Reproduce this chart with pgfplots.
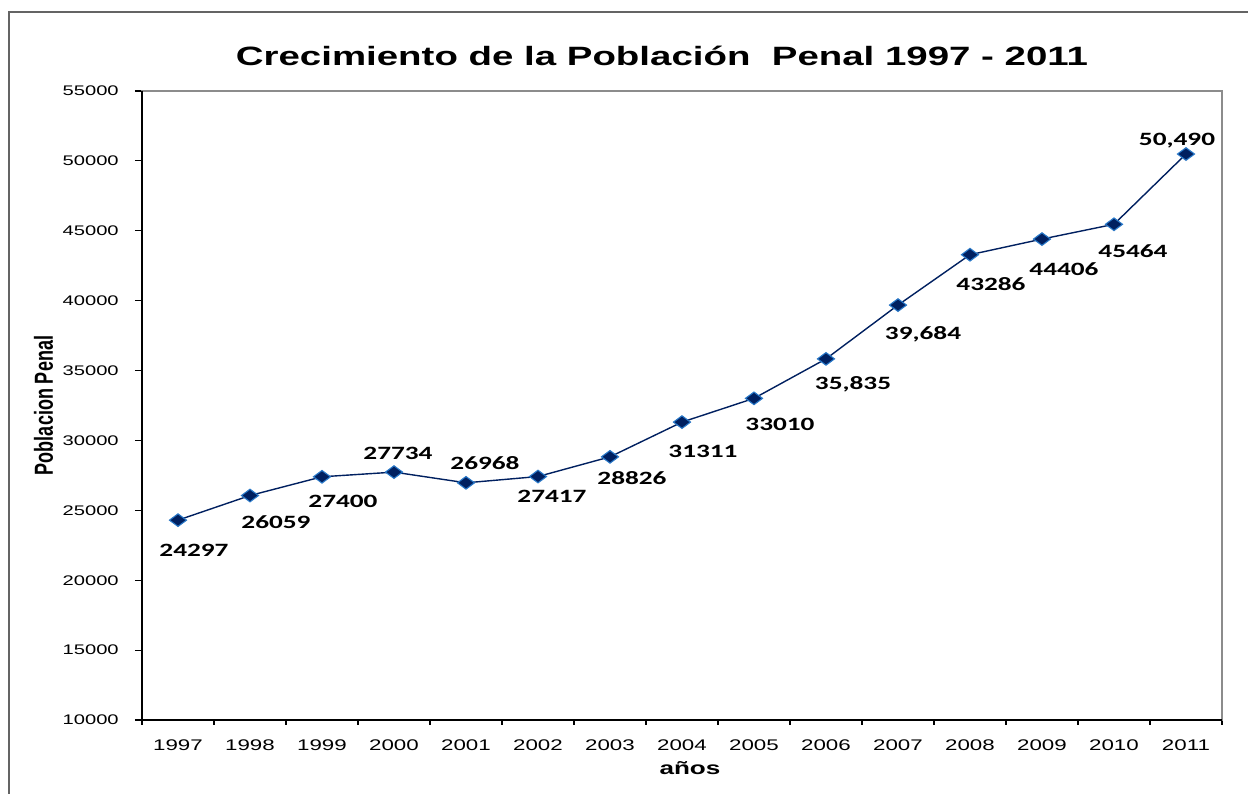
\documentclass[border=0pt]{standalone}
\usepackage{pgfplots}
\pgfplotsset{compat=1.18}
\usepackage{pgfplotstable}
\usepackage{graphicx}
\usepackage{fontspec}
\setmainfont{Liberation Sans}
\newfontfamily\calibri{Carlito}
\definecolor{navy}{RGB}{0,32,96}
\definecolor{mkedge}{RGB}{40,120,200}
\definecolor{framegray}{RGB}{100,100,100}
\definecolor{boxgray}{RGB}{140,140,140}
\pgfplotstableread{
x y lab dx dy
0 24297 24297 16 -30
1 26059 26059 26 -27
2 27400 27400 21 -25
3 27734 27734 4 19
4 26968 26968 19 20
5 27417 27417 14 -20
6 28826 28826 22 -21
7 31311 31311 21 -29
8 33010 33010 26 -26
9 35835 35,835 27 -25
10 39684 39,684 25 -29
11 43286 43286 21 -29
12 44406 44406 22 -30
13 45464 45464 19 -27
14 50490 50,490 -9 13
}\datatab
\begin{document}
\begin{tikzpicture}
\useasboundingbox (0pt,0pt) rectangle (1248pt,794pt);
\fill[white] (0pt,0pt) rectangle (1248pt,794pt);
\draw[framegray, line width=1.3pt] (9pt,-5pt) -- (9pt,782pt) -- (1255pt,782pt);
\begin{axis}[
  at={(142pt,74pt)}, anchor=south west,
  scale only axis, width=1080pt, height=629pt,
  xmin=-0.5, xmax=14.5, ymin=10000, ymax=55000,
  clip=false,
  axis line style={draw=boxgray, line width=1.3pt},
  tick pos=left, tick align=outside,
  xtick={0,...,14},
  xticklabels={1997,1998,1999,2000,2001,2002,2003,2004,2005,2006,2007,2008,2009,2010,2011},
  major x tick style={draw=none},
  minor xtick={-0.5,0.5,...,14.5},
  minor tick length=5pt,
  major tick length=7pt,
  every tick/.append style={black, line width=1.2pt},
  ytick={10000,15000,...,55000},
  scaled y ticks=false,
  /pgf/number format/.cd, 1000 sep={}, assume math mode=true, /pgfplots/.cd,
  yticklabel style={anchor=east, inner sep=0pt, xshift=-16pt, font=\fontsize{13.9}{16}\selectfont, xscale=1.45},
  xticklabel style={anchor=north, inner sep=0pt, yshift=-13pt, font=\fontsize{15.4}{18}\selectfont, xscale=1.45},
  title={Crecimiento de la Población\ \ Penal 1997 - 2011},
  title style={at={(axis description cs:0.5,1)}, anchor=base, inner sep=0pt, xshift=-20pt, yshift=19pt, font=\bfseries\fontsize{26.5}{30}\selectfont, xscale=1.45},
  xlabel={años},
  xlabel style={at={(axis description cs:0.5074,0)}, anchor=base, inner sep=0pt, yshift=-55pt, font=\bfseries\fontsize{18}{20}\selectfont, xscale=1.45},
  ylabel={\scalebox{1}[1.45]{Poblacion Penal}},
  ylabel style={at={(axis description cs:-0.0912,0.5)}, anchor=center, inner sep=0pt, font=\bfseries\fontsize{18}{20}\selectfont},
  nodes near coords,
  point meta=explicit symbolic,
  visualization depends on={\thisrow{dx}\as\dx},
  visualization depends on={\thisrow{dy}\as\dy},
  nodes near coords align={center},
  nodes near coords style={anchor=center, inner sep=0pt, xshift=\dx pt, yshift=\dy pt, font=\calibri\bfseries\fontsize{18.8}{20}\selectfont, xscale=1.45, black},
]
\addplot[color=navy, line width=1.4pt, mark=diamond*, mark size=6.3pt,
  mark options={xscale=1.8, fill=navy, draw=mkedge, line width=1.1pt}]
  table[x=x, y=y, meta=lab] {\datatab};
\draw[black, line width=2pt] (rel axis cs:0,1) -- (rel axis cs:0,0) -- (rel axis cs:1,0);
\end{axis}
\end{tikzpicture}
\end{document}
